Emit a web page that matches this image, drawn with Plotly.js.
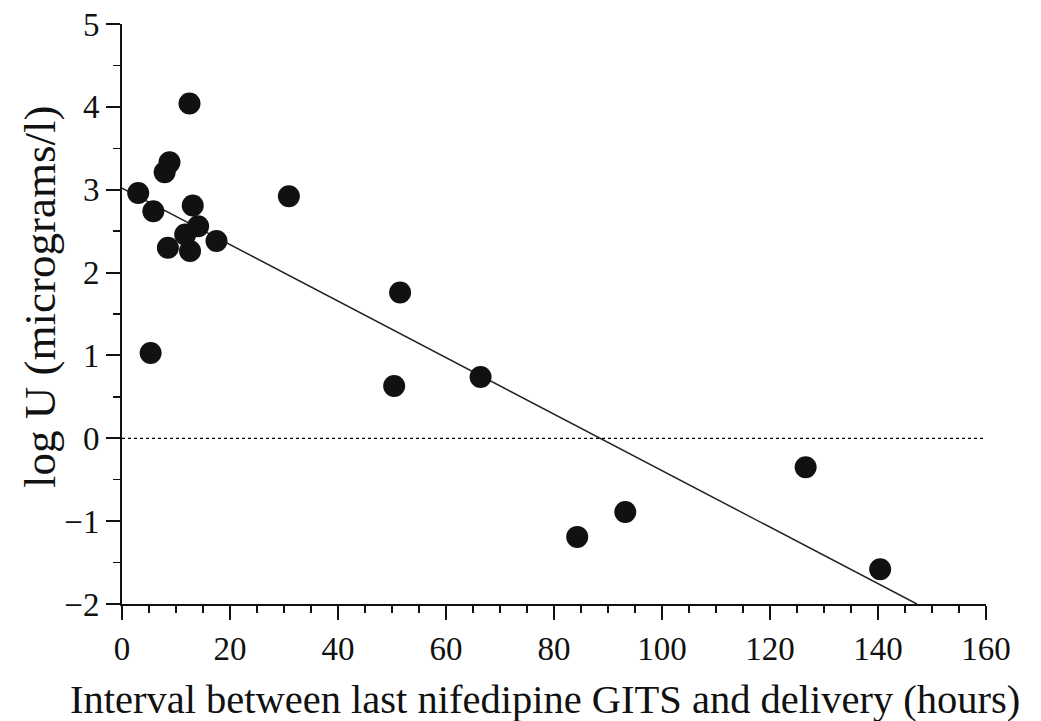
<!DOCTYPE html>
<html>
<head>
<meta charset="utf-8">
<script src="https://cdn.plot.ly/plotly-3.0.1.min.js"></script>
<style>html,body{margin:0;padding:0;background:#fff;}#chart{width:1041px;height:721px;}</style>
</head>
<body>
<div id="chart"></div>
<script>
// Data
const intervalHours = [3.0, 5.8, 5.3, 7.9, 8.8, 8.5, 12.5, 13.1, 11.7, 12.6, 14.1, 17.5, 30.9, 51.5, 50.4, 66.4, 84.3, 93.2, 126.6, 140.4];
const logU          = [2.96, 2.74, 1.03, 3.21, 3.33, 2.30, 4.04, 2.81, 2.46, 2.26, 2.56, 2.38, 2.92, 1.76, 0.63, 0.74, -1.19, -0.89, -0.35, -1.58];
const fitX = [0, 147.2];
const fitY = [3.02, -2.0];
const refX = [0, 160];
const refY = [0, 0];
const xTicks = [0, 20, 40, 60, 80, 100, 120, 140, 160];
const yTicks = [-2, -1, 0, 1, 2, 3, 4, 5];
const xTitle = 'Interval between last nifedipine GITS and delivery (hours)';
const yTitle = 'log U (micrograms/l)';

const font = 'Liberation Serif, Times New Roman, serif';
const traces = [
  {x: refX, y: refY, mode: 'lines', line: {color: '#000', width: 1.3, dash: 'dot'}, hoverinfo: 'skip'},
  {x: fitX, y: fitY, mode: 'lines', line: {color: '#222', width: 1.5}, hoverinfo: 'skip'},
  {x: intervalHours, y: logU, mode: 'markers', marker: {color: '#111', size: 22, line: {width: 0}}, cliponaxis: false}
];
const layout = {
  width: 1041, height: 721,
  margin: {l: 122, r: 55, t: 24, b: 117},
  showlegend: false,
  paper_bgcolor: '#fff', plot_bgcolor: '#fff',
  font: {family: font, color: '#111', size: 33},
  xaxis: {
    range: [0, 160], tickvals: xTicks, ticktext: xTicks.map(String),
    showgrid: false, zeroline: false, showline: true, linecolor: '#111', linewidth: 2,
    ticks: 'outside', ticklen: 14, tickwidth: 2, tickcolor: '#111',
    minor: {dtick: 5, tick0: 0, ticks: 'outside', ticklen: 7, tickwidth: 1.5, tickcolor: '#111', showgrid: false},
    tickfont: {family: font, size: 33, color: '#111'}
  },
  yaxis: {
    range: [-2, 5], tickvals: yTicks, ticktext: yTicks.map(v => v < 0 ? '\u2212' + Math.abs(v) : String(v)),
    showgrid: false, zeroline: false, showline: true, linecolor: '#111', linewidth: 2,
    ticks: 'outside', ticklen: 14, tickwidth: 2, tickcolor: '#111',
    minor: {dtick: 0.5, tick0: 0, ticks: 'outside', ticklen: 7, tickwidth: 1.5, tickcolor: '#111', showgrid: false},
    tickfont: {family: font, size: 33, color: '#111'}
  },
  annotations: [
    {text: xTitle, xref: 'paper', yref: 'paper', x: (545 - 122) / 864, y: -(699 - 604) / 580, xanchor: 'center', yanchor: 'middle', showarrow: false, font: {family: font, size: 40.5, color: '#111'}},
    {text: yTitle, xref: 'paper', yref: 'paper', x: -(122 - 40) / 864, y: (604 - 297) / 580, xanchor: 'center', yanchor: 'middle', textangle: -90, showarrow: false, font: {family: font, size: 45, color: '#111'}}
  ]
};
Plotly.newPlot('chart', traces, layout, {staticPlot: true});
</script>
</body>
</html>
